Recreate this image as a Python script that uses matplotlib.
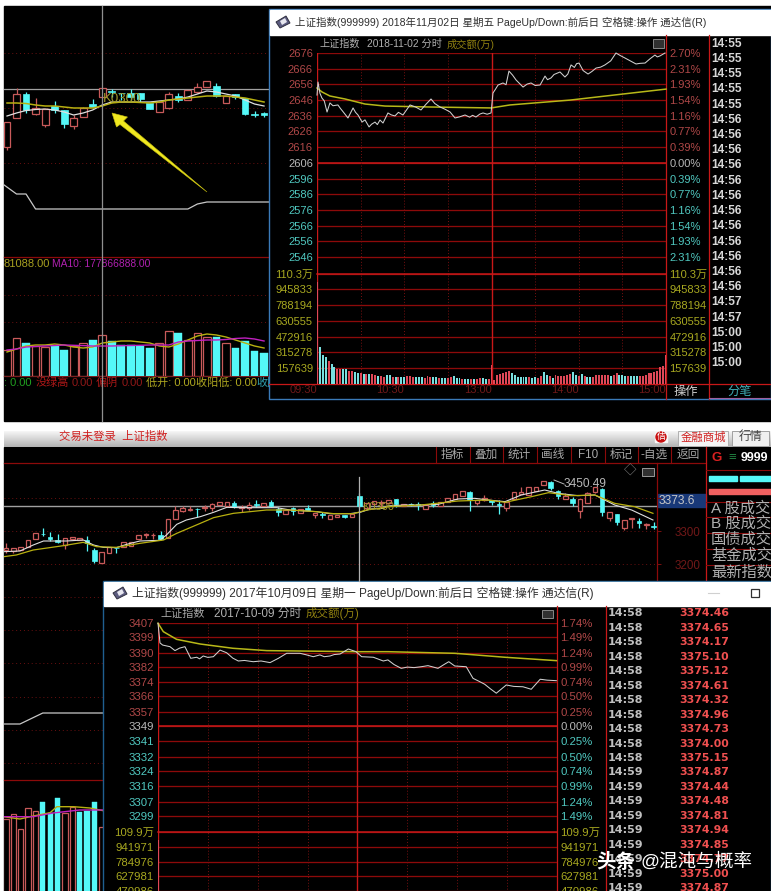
import numpy as np
import matplotlib
matplotlib.use('Agg')
import matplotlib.pyplot as plt
from matplotlib.patches import Rectangle, Polygon, Circle

plt.rcParams['font.family'] = ['Liberation Sans', 'Noto Sans CJK SC', 'DejaVu Sans']

W, H = 776, 891

RED = '#c85a5a'
CYAN = '#54f8f8'
GRID = '#8c0a0a'
BRIGHT = '#c81818'
OLIVE = '#a8a820'
PCT_RED = '#b04848'
PCT_GREY = '#b8b8b8'
PCT_TEAL = '#50c8c0'

# ---- first day (2018-11-02) ----
d1_minutes = [0, 0.7, 2, 3.4, 5, 6.9, 8.9, 11, 14.4, 16, 18, 21.3, 24.8, 26.5, 28.2, 31, 33, 35.8, 37.5, 39.9, 41.5, 43.3,
              45.4, 48.8, 51, 53.6, 56, 59.1, 64, 66, 68, 71.5, 75, 78.4, 81, 84.6, 88, 91.5, 94.9, 98, 101.8, 105,
              107, 109.3, 112, 114.2, 117, 119.7, 121, 122.5, 124.5, 127.9, 130, 132, 134.5, 136.9, 141.7, 144.5,
              147.2, 150, 153.4, 156.8, 158.5, 160.9, 163, 167.1, 170.5, 172.5, 174.7, 177, 178.5, 180.2, 183, 186.4,
              189, 191.9, 195, 198, 202, 205.6, 208.5, 211.8, 215, 219.4, 222, 225.6, 229, 232.4, 234, 236, 239.3]
d1_prices = [2649.2, 2657.5, 2650.4, 2647.3, 2645.5, 2638.4, 2644.2, 2642.4, 2642.9, 2640.8, 2638.5, 2634.6, 2641, 2638.2,
             2636.5, 2632, 2633.4, 2628.9, 2630.6, 2632, 2630.4, 2633.3, 2631.4, 2637.8, 2636.6, 2635.9, 2638.2, 2636.5,
             2642.9, 2642.2, 2641.5, 2639.7, 2643.4, 2646.7, 2643.8, 2641.6, 2640.2, 2638.4, 2634.6, 2635.3, 2636.5,
             2635.1, 2636.3, 2635.2, 2637.1, 2637.8, 2637, 2637.8, 2650.5, 2652.6, 2655.6, 2656.9, 2655.8, 2664.5,
             2661.9, 2658.8, 2654.3, 2656.2, 2656.9, 2655.3, 2655.6, 2661.3, 2659, 2660.1, 2662.3, 2663.9, 2660.7,
             2662.6, 2668.4, 2666.8, 2669.2, 2669.6, 2664.8, 2662.6, 2664.2, 2666.4, 2667, 2668.4, 2671, 2676, 2674.4,
             2672.8, 2671.2, 2669, 2669.4, 2669.6, 2672.3, 2674.7, 2673.5, 2674.2, 2676]
d1_avg_minutes = [0, 3.4, 8.9, 19.3, 33, 46.8, 77.7, 119.7, 132.7, 174, 240]
d1_avg_prices = [2653.7, 2651.2, 2648.6, 2646.7, 2643.5, 2642.2, 2641.6, 2641, 2642.9, 2646, 2653]
d1_volume = [102, 37, 29, 27, 23, 20, 17, 15, 15, 15, 15, 13, 13, 12, 11, 11, 10, 10, 10, 10,
             9, 8, 8, 7, 9, 9, 7, 7, 7, 7, 7, 8, 8, 7, 7, 7, 7, 6, 8, 7,
             7, 7, 6, 6, 6, 6, 7, 8, 6, 6, 5, 5, 5, 5, 5, 5, 6, 6, 5, 5,
             19, 4, 9, 10, 11, 12, 13, 11, 9, 7, 7, 7, 7, 7, 6, 7, 6, 8, 12, 9,
             8, 6, 9, 8, 8, 8, 9, 10, 12, 9, 8, 10, 8, 7, 7, 7, 9, 9, 9, 9,
             9, 8, 9, 11, 9, 9, 8, 8, 8, 8, 8, 8, 8, 9, 11, 11, 12, 13, 17, 18, 29]
d1_volume_side = ('rcccrccrrccrrccrcrcrrcrrccrcrccrrrcccrrrccrccrrcccrccrcrrccr'
                  'rrrrrrrccccccrccrrccrcrrrrrrccrcrccrrrrrrcrrcccrcccrrrrrrrrr' 'r')
d1_price_ticks = [2676, 2666, 2656, 2646, 2636, 2626, 2616, 2606, 2596, 2586, 2576, 2566, 2556, 2546]
d1_pct_labels = ['2.70%', '2.31%', '1.93%', '1.54%', '1.16%', '0.77%', '0.39%', '0.00%',
                 '0.39%', '0.77%', '1.16%', '1.54%', '1.93%', '2.31%']
d1_vol_ticks = [110.3, 94.5833, 78.8194, 63.0555, 47.2916, 31.5278, 15.7639]
d1_vol_labels = ['110.3万', '945833', '788194', '630555', '472916', '315278', '157639']
d1_times = ['14:55'] * 5 + ['14:56'] * 12 + ['14:57'] * 2 + ['15:00'] * 3

# ---- second day (2017-10-09) ----
d2_minutes = [0, 1.2, 2.8, 7.2, 10.2, 13, 16.2, 19.7, 23.3, 25, 27.2, 30, 33.3, 37.3, 41.3, 45, 48.3, 52, 57.3, 62, 67.4,
              72.4, 77.4, 85.4, 89, 93.4, 97.4, 100, 103.5, 106, 109.5, 114.5, 119.1, 122.5, 129.5, 135.5, 138.3, 142,
              146.3, 150, 154, 158.4, 162.4, 168.4, 172, 174.9, 178.5, 185.4, 189.5, 193, 196.5, 200, 203.5, 209.5,
              214, 219.5, 224.5, 229.9, 234, 239.6]
d2_prices = [3406.7, 3395.7, 3394.5, 3393.6, 3391.4, 3392.8, 3393.6, 3387.1, 3387.7, 3386.8, 3388.4, 3387.6, 3388, 3391.7,
             3390.2, 3387.2, 3385.6, 3385.9, 3385.2, 3385.6, 3384.7, 3387.1, 3389.9, 3389.9, 3389.1, 3388, 3389, 3388,
             3388.4, 3389.2, 3389.5, 3392.3, 3390.8, 3388, 3387.7, 3385.6, 3386.2, 3383.6, 3381.5, 3382.2, 3381.9,
             3382.4, 3383, 3381.5, 3383.6, 3385.2, 3382.8, 3382.4, 3375.9, 3374.3, 3372.6, 3370, 3367.6, 3372.2, 3371.4,
             3371.2, 3369.8, 3375.4, 3374.9, 3374.6]
d2_avg_minutes = [0, 3.2, 11.2, 25.3, 45.1, 65.4, 119.5, 138.3, 178.5, 208.5, 239.6]
d2_avg_prices = [3406.7, 3402, 3397.7, 3395.1, 3392.7, 3391.4, 3390.8, 3390.8, 3389.9, 3387.7, 3385.8]
d2_volume = [101, 30, 26, 22, 18, 15, 13, 12]
d2_volume_side = 'rccrrcrc'
d2_price_ticks = [3407, 3399, 3390, 3382, 3374, 3366, 3357, 3349, 3341, 3332, 3324, 3316, 3307, 3299]
d2_pct_labels = ['1.74%', '1.49%', '1.24%', '0.99%', '0.74%', '0.50%', '0.25%', '0.00%',
                 '0.25%', '0.50%', '0.74%', '0.99%', '1.24%', '1.49%']
d2_vol_ticks = [109.9, 94.1971, 78.4976, 62.7981, 47.0986, 31.3991, 15.6995]
d2_vol_labels = ['109.9万', '941971', '784976', '627981', '470986', '313991', '156995']
d2_times = ['14:58'] * 11 + ['14:59'] * 9
d2_quotes = ['3374.46', '3374.65', '3374.17', '3375.10', '3375.12', '3374.61', '3374.32', '3374.96', '3374.73',
             '3374.00', '3375.15', '3374.87', '3374.44', '3374.48', '3374.81', '3374.94', '3374.85', '3374.77',
             '3375.00', '3374.87']

# ---- daily candles behind the first dialog (unlabelled scale) ----
k1_open = [53, 82, 106, 86, 75, 94, 90, 74, 83, 96, 103, 109, 107.5, 107, 107, 97, 88, 92, 104, 100, 108, 113, 114, 97, 106, 102, 86, 87]
k1_close = [78, 106, 90, 92, 91, 90, 76, 82, 92, 93, 112, 108.5, 107, 103, 101, 91, 98, 106, 100, 110, 113, 119, 104, 104, 103, 86, 85.3, 85]
k1_high = [78, 112, 108, 102, 91, 99, 90, 85, 93, 101, 112, 111, 107.5, 111, 107, 97, 98, 108, 107, 110, 117, 119, 117, 104, 106, 102, 89, 88]
k1_low = [50, 82, 87, 85, 73, 87, 72, 71, 83, 92, 103, 103, 100, 100, 98, 91, 88, 91, 98, 100, 107, 113, 103, 97, 101, 85, 83, 83]
k1_ma_white = [84, 87, 89.5, 90.5, 91, 90, 88, 85, 87, 90, 95, 98, 98, 98, 98, 98, 99, 100, 101, 103, 106, 109, 108, 106, 104, 100, 96, 94]
k1_ma_yellow = [97, 97, 96.5, 95, 94, 94, 93, 92, 92, 92, 94, 97, 98, 98, 97.5, 97, 98, 100, 101, 102, 103, 104, 104, 104, 103, 102, 100, 98]
k1_ind_idx = [-0.3, 1, 2, 3, 19, 20, 21, 27.5]
k1_ind = [15, 6, 6, -9, -9, -4, -2, -2]
k1_vol = [25.7, 37.7, 32.7, 29.7, 28.7, 29.7, 25.7, 29.7, 32.7, 35.7, 40.7, 34.7, 30.7, 30.7, 29.7, 27.7, 32.7, 44.7,
          42.7, 35.7, 42.7, 38.7, 38.7, 32.7, 27.7, 34.7, 24.7, 22.7]
k1_vol_ma5 = [23.7, 26.7, 29.7, 30.7, 30.7, 31.7, 30.7, 28.7, 27.7, 28.7, 32.7, 33.7, 34.7, 34.7, 33.7, 32.7, 29.7, 28.7,
              31.7, 35.7, 39.7, 41.7, 40.7, 38.7, 35.7, 32.7, 29.7, 27.7]
k1_vol_ma10 = [25.7, 26.7, 28.7, 29.2, 29.7, 30.2, 30.7, 30.4, 30.1, 29.7, 29.7, 29.7, 30, 30.2, 30.4, 30.7, 30.7, 30.7,
               33.7, 34.7, 35.2, 35.7, 35.7, 36.2, 37.2, 37.7, 36.7, 34.7]

# ---- daily candles behind the second dialog ----
k2_open = [3243, 3240, 3243, 3253, 3275, 3291, 3283, 3273, 3258, 3275, 3273, 3273, 3243, 3205, 3235, 3250, 3253, 3256,
           3275, 3289, 3288, 3288, 3278, 3335, 3360, 3364, 3367, 3370, 3370, 3377, 3375, 3385, 3370, 3368, 3380, 3376,
           3386, 3365, 3352, 3368, 3353, 3368, 3348, 3350, 3336, 3341, 3348, 3342, 3406, 3370, 3380, 3385, 3385, 3396,
           3374, 3380, 3380, 3365, 3385, 3375, 3386, 3396, 3406, 3418, 3383, 3393, 3393, 3380, 3368, 3395, 3410, 3408,
           3420, 3437, 3446, 3420, 3396, 3395, 3360, 3383, 3418, 3426, 3340, 3350, 3310, 3337, 3330, 3318, 3314]
k2_close = [3248, 3250, 3253, 3274, 3293, 3290, 3275, 3266, 3280, 3283, 3278, 3263, 3210, 3238, 3253, 3249, 3268, 3268,
            3288, 3290, 3289, 3275, 3335, 3363, 3368, 3366, 3366, 3371, 3381, 3386, 3387, 3372, 3371, 3377, 3379, 3385,
            3375, 3358, 3364, 3360, 3366, 3364, 3355, 3349, 3348, 3348, 3343, 3351, 3374, 3385, 3390, 3386, 3393, 3380,
            3380, 3378, 3378, 3378, 3379, 3388, 3400, 3410, 3420, 3393, 3393, 3400, 3386, 3378, 3386, 3416, 3416, 3431,
            3433, 3449, 3428, 3404, 3405, 3385, 3396, 3415, 3433, 3356, 3358, 3326, 3333, 3339, 3323, 3320, 3313]
k2_high = [3263, 3250, 3253, 3274, 3293, 3308, 3296, 3290, 3280, 3283, 3278, 3285, 3250, 3238, 3253, 3250, 3268, 3268,
           3288, 3295, 3295, 3300, 3335, 3375, 3375, 3375, 3368, 3378, 3383, 3386, 3387, 3390, 3378, 3386, 3392, 3385,
           3394, 3373, 3364, 3373, 3366, 3378, 3355, 3356, 3348, 3348, 3348, 3351, 3413, 3385, 3390, 3393, 3393, 3396,
           3380, 3383, 3386, 3378, 3390, 3388, 3400, 3410, 3420, 3420, 3393, 3408, 3393, 3393, 3386, 3416, 3433, 3431,
           3433, 3449, 3450, 3423, 3413, 3403, 3396, 3418, 3433, 3428, 3358, 3350, 3333, 3339, 3338, 3323, 3326]
k2_low = [3233, 3233, 3243, 3253, 3275, 3285, 3270, 3263, 3246, 3275, 3273, 3240, 3203, 3205, 3235, 3233, 3253, 3256,
          3275, 3278, 3276, 3273, 3278, 3335, 3356, 3360, 3341, 3361, 3360, 3377, 3375, 3368, 3358, 3363, 3373, 3376,
          3371, 3346, 3352, 3348, 3353, 3362, 3338, 3338, 3336, 3341, 3338, 3342, 3368, 3370, 3380, 3370, 3385, 3373,
          3374, 3375, 3363, 3365, 3373, 3375, 3386, 3396, 3406, 3360, 3378, 3390, 3378, 3350, 3360, 3395, 3410, 3408,
          3420, 3437, 3423, 3396, 3396, 3375, 3338, 3383, 3413, 3346, 3330, 3318, 3303, 3310, 3308, 3305, 3306]
k2_white_idx = [-0.3, 1.9, 3.7, 5.1, 8.2, 10.5, 11.9, 13.2, 15, 16.4, 18.2, 20.9, 21.8, 23.2, 24.5, 26.4, 28.2, 30, 31.8,
                34, 36.8, 38.6, 42.2, 44, 46.7, 48.1, 49.5, 51.3, 51.9, 54.2, 56.4, 58.7, 61.4, 63.7, 65.5, 67.8, 70,
                73.2, 75, 77.7, 80, 82.7, 85, 87.9]
k2_white = [3238, 3240, 3258, 3270, 3270, 3273, 3258, 3251, 3250, 3260, 3270, 3272, 3288, 3320, 3333, 3343, 3356, 3371,
            3370, 3370, 3370, 3363, 3358, 3352, 3352, 3356, 3366, 3368, 3375, 3378, 3378, 3380, 3396, 3398, 3393, 3388,
            3408, 3423, 3413, 3406, 3408, 3378, 3363, 3333]
k2_yellow_idx = [-0.3, 1.4, 3.7, 7.8, 10.5, 12.3, 15, 18.2, 21.4, 23.2, 26.4, 28.2, 30.9, 35.4, 38.6, 42.2, 44.5, 47.2,
                 49, 51.3, 51.9, 56.4, 61.4, 65.5, 67.8, 71.4, 73.7, 76.8, 80, 82.7, 85.4, 87.9]
k2_yellow = [3223, 3228, 3243, 3256, 3266, 3253, 3251, 3263, 3273, 3293, 3323, 3340, 3353, 3363, 3363, 3358, 3352, 3352,
             3363, 3370, 3373, 3378, 3390, 3393, 3386, 3403, 3415, 3406, 3408, 3383, 3373, 3353]
k2_ind_idx = [-0.27, 1.9, 5, 13.2]
k2_ind = [76, 76, 87, 87]
k2_vol = [81, 86, 71, 92, 89, 98, 87, 102, 87, 93, 88, 89, 98, 73]
k2_vol_up = [1, 1, 1, 1, 1, 0, 0, 0, 1, 1, 0, 0, 0, 1]
k2_ma5_idx = [-0.3, 1.9, 3.7, 6, 6.9, 9.2, 11.4, 13.2]
k2_ma5 = [83.3, 81, 84, 87.3, 93.3, 93.3, 92, 89.3]
k2_ma10_idx = [-0.3, 3.7, 6.4, 10, 13.2]
k2_ma10 = [83.3, 83.3, 87, 90, 90]


def add_box(left, top, right, bottom, z):
    ax = plt.gcf().add_axes([left / W, 1 - bottom / H, (right - left) / W, (bottom - top) / H])
    ax.set_zorder(z)
    ax.patch.set_visible(False)
    for s in ax.spines.values():
        s.set_visible(False)
    ax.tick_params(length=0, labelbottom=False, labelleft=False)
    return ax


def page_layer(z):
    ax = add_box(0, 0, W, H, z)
    ax.set_xlim(0, W)
    ax.set_ylim(H, 0)
    ax.set_xticks([])
    ax.set_yticks([])
    return ax


def label(ax, x, y, s, color, size=8, ha='left', **kw):
    ax.text(x, y, s, color=color, fontsize=size, ha=ha, va='center', **kw)


def dotted_grid(ax):
    ax.yaxis.grid(True, color='#6a1010', lw=0.7, ls=(0, (1, 3)))
    ax.set_axisbelow(True)


def candles(ax, opens, closes, highs, lows, width):
    x = np.arange(len(opens))
    o, c = np.array(opens), np.array(closes)
    up = c > o
    ax.vlines(x, lows, highs, colors=[RED if u else CYAN for u in up], lw=0.9, zorder=2)
    ax.bar(x[up], (c - o)[up], bottom=o[up], width=width, facecolor='black', edgecolor=RED, lw=0.9, zorder=3)
    ax.bar(x[~up], (c - o)[~up], bottom=o[~up], width=width, facecolor=CYAN, edgecolor=CYAN, lw=0.5, zorder=3)


def volume_bars(ax, vols, up, width):
    x = np.arange(len(vols))
    v, u = np.array(vols), np.array(up, dtype=bool)
    ax.bar(x[u], v[u], width=width, facecolor='black', edgecolor=RED, lw=0.9, zorder=2)
    ax.bar(x[~u], v[~u], width=width, facecolor=CYAN, edgecolor=CYAN, lw=0.3, zorder=2)


def tick_colors(labels, middle):
    for i, t in enumerate(labels):
        t.set_color(PCT_RED if i < middle else PCT_GREY if i == middle else PCT_TEAL)


def minute_panel(left, right, top, mid, bottom, price_bottom, vol_top, price_ticks, pct_labels, vol_ticks, vol_labels,
                 minutes, prices, avg_minutes, avg_prices, volume, side, fs):
    ax = add_box(left, top, right, mid, 4)
    ax.set_xlim(0, 240)
    ax.set_ylim(price_bottom, price_ticks[0])
    ax.set_xticks([])
    ax.set_yticks(price_ticks, labels=[str(p) for p in price_ticks])
    ax.tick_params(axis='y', labelleft=True, pad=3, labelsize=fs)
    ax.yaxis.grid(True, color=GRID, lw=0.95)
    ax.set_axisbelow(True)
    tick_colors(ax.get_yticklabels(), 7)
    ax.axhline(price_ticks[7], color=BRIGHT, lw=1.1, zorder=1)
    ax.plot(minutes, prices, color='#d0d0d0', lw=0.75, zorder=4, clip_on=False)
    ax.plot(avg_minutes, avg_prices, color='#b8b818', lw=1.1, zorder=3, clip_on=False)

    rax = ax.twinx()
    rax.set_ylim(ax.get_ylim())
    rax.set_xlim(0, 240)
    rax.set_yticks(price_ticks, labels=pct_labels)
    rax.tick_params(axis='y', length=0, pad=2.5, labelsize=fs)
    tick_colors(rax.get_yticklabels(), 7)
    for s in rax.spines.values():
        s.set_visible(False)

    vax = add_box(left, mid, right, bottom, 4)
    vax.set_xlim(0, 240)
    vax.set_ylim(0, vol_top)
    vax.set_yticks(vol_ticks, labels=vol_labels)
    vax.tick_params(axis='y', labelleft=True, pad=3, labelsize=fs, labelcolor=OLIVE)
    vax.yaxis.grid(True, color=GRID, lw=0.95)
    vax.set_axisbelow(True)
    vax.axhline(vol_top, color=BRIGHT, lw=1.1, zorder=1, clip_on=False)
    vax.set_xticks([0, 60, 120, 180, 240], labels=['09:30', '10:30', '13:00', '14:00', '15:00'])
    vax.tick_params(axis='x', labelbottom=True, labelsize=fs, labelcolor='#701818', pad=1)
    for t in vax.get_xticklabels():
        t.set_ha('right')
    colors = ['#e04858' if s == 'r' else '#78e0e0' for s in side]
    vax.bar(np.arange(len(volume)) * 2, volume, width=1.35, color=colors, zorder=3)

    r2 = vax.twinx()
    r2.set_ylim(0, vol_top)
    r2.set_yticks(vol_ticks, labels=vol_labels)
    r2.tick_params(axis='y', length=0, pad=2.5, labelsize=fs, labelcolor=OLIVE)
    for s in r2.spines.values():
        s.set_visible(False)

    for a in (ax, vax):
        for m in [30, 60, 90, 150, 180, 210]:
            a.axvline(m, color='#7a1010', lw=0.7, ls=(0, (1, 2)), zorder=1)
        a.axvline(0, color=BRIGHT, lw=1, zorder=1)
        a.axvline(120, color=BRIGHT, lw=1, zorder=1)


def window_icon(ax, cx, cy):
    ax.add_patch(Polygon([(cx - 7, cy), (cx + 3, cy - 6), (cx + 7, cy + 1), (cx - 3, cy + 6)],
                         facecolor='#5c5c80', edgecolor='#303040', lw=0.7))
    ax.add_patch(Polygon([(cx - 3, cy - 1), (cx + 2, cy - 4), (cx + 4, cy), (cx - 1, cy + 3)],
                         facecolor='#e8e8f0', edgecolor='none'))


fig = plt.figure(figsize=(W / 100, H / 100), dpi=100, facecolor='white')

# screen backgrounds
page = page_layer(0)
page.add_patch(Rectangle((4, 6), 767, 415, color='black'))
page.add_patch(Rectangle((4, 447), 767, 444, color='black'))
for i in range(16):
    g = 0.96 - 0.017 * i
    page.add_patch(Rectangle((4, 431 + i), 767, 1, color=(g, g, g), lw=0))
label(page, 59, 436, '交易未登录  上证指数', '#d02020', 8.2)
page.add_patch(Rectangle((655, 433), 12, 9, color='#f8f8f8'))
page.add_patch(Circle((661, 437), 5, color='#c81010'))
label(page, 661, 437, '佶', 'white', 6.5, ha='center')
page.add_patch(Rectangle((678, 431), 50, 15, facecolor='#f4f4f4', edgecolor='#b0b0b0', lw=0.7))
label(page, 703, 437, '金融商城', '#d02020', 8.2, ha='center')
page.add_patch(Rectangle((732, 431), 37, 15, facecolor='#f0f0f0', edgecolor='#a0a0a0', lw=0.7))
label(page, 751, 437, '行情', '#444444', 8.6, ha='center')

# menu bar of the second screen
page.plot([4, 706], [463, 463], color=GRID, lw=0.9)
for x in [436, 470, 503, 537, 570.6, 604.7, 638, 671]:
    page.plot([x, x], [447, 463], color=GRID, lw=0.8)
for x, s in zip([452.5, 486, 519.5, 553, 588, 621.5, 654.5, 688.5],
                ['指标', '叠加', '统计', '画线', 'F10', '标记', '-自选', '返回']):
    label(page, x, 455, s, '#a8a8a8', 8.4, ha='center')
page.plot([657, 657], [463, 581], color=GRID, lw=0.9)
page.plot([706, 706], [447, 581], color=BRIGHT, lw=0.9)
for y in [470, 502, 517, 533, 549, 565]:
    page.plot([706, 771], [y, y], color=GRID, lw=0.8)
label(page, 712, 458, 'G', '#d82020', 9.5, weight='bold')
label(page, 728, 458, '≡', '#208040', 9.5, weight='bold')
label(page, 741, 458, '9999', 'white', 9, weight='bold')
page.add_patch(Rectangle((709, 476), 28, 5, color=CYAN))
page.add_patch(Rectangle((740, 476), 31, 5, color=CYAN))
page.add_patch(Rectangle((709, 489), 62, 5, color='#f06060'))
for y, s in zip([509, 524, 540, 556, 573], ['A 股成交', 'B 股成交', '国债成交', '基金成交', '最新指数']):
    label(page, 711, y, s, '#b0b0b0', 11)
page.add_patch(Rectangle((658, 494), 48, 13, color='#183878'))
label(page, 659, 500.5, '3373.6', '#c8c8c8', 8.6)
label(page, 630, 472, '◇', '#888888', 9, ha='center')
page.add_patch(Rectangle((642, 468), 12, 8, facecolor='#303030', edgecolor='#999999', lw=0.7))
label(page, 564, 484, '3450.49', '#b8b8b8', 8.6)
page.plot([554, 564], [480, 484], color='#b8b8b8', lw=0.7)

# first screen: daily candles, indicator and volume
k1 = add_box(4, 6, 269, 257, 1)
k1.set_xlim(-0.315, 27.52)
k1.set_ylim(-57, 194)
k1.set_xticks([])
k1.set_yticks([147, 92, 37])
dotted_grid(k1)
k1.axhline(111.3, color='#a0a0a0', lw=0.9, zorder=1)
candles(k1, k1_open, k1_close, k1_high, k1_low, 0.72)
k1.plot(k1_ma_white, color='#e0e0e0', lw=0.9, zorder=4)
k1.plot(k1_ma_yellow, color='#b8b010', lw=1.1, zorder=4)
k1.plot(k1_ind_idx, k1_ind, color='#c8c8c8', lw=0.9, zorder=4)

v1 = add_box(4, 257, 269, 375.7, 1)
v1.set_xlim(-0.315, 27.52)
v1.set_ylim(0, 118.7)
v1.set_xticks([])
v1.set_yticks([80.7, 53.7])
dotted_grid(v1)
v1.axhline(118.7, color=GRID, lw=0.9, clip_on=False)
v1.axhline(0, color='#7a2020', lw=0.9, clip_on=False)
volume_bars(v1, k1_vol, np.array(k1_close) > np.array(k1_open), 0.82)
v1.plot(k1_vol_ma5, color='#b8b010', lw=1, zorder=3)
v1.plot(k1_vol_ma10, color='#c020c0', lw=1, zorder=3)

label(page, 4, 264, '81088.00', '#a8a020', 8)
label(page, 52, 264, 'MA10: 177866888.00', '#b020b0', 7.4)
for x, s, c in [(4, ': 0.00', '#20a020'), (36, '没绿高', '#b01818'), (72, '0.00', '#901818'),
                (96, '偏阴', '#b01818'), (122, '0.00', '#901818'), (146, '低开: 0.00', '#b0a820'),
                (196, '收阳低: 0.00', '#b0a820'), (256, '收阴', '#30a0b0')]:
    label(page, x, 383, s, c, 8)

# second screen: daily candles, indicator and volume
k2 = add_box(4, 463, 657, 581, 1)
k2.set_xlim(-0.27, 88.45)
k2.set_ylim(3150, 3504)
k2.set_xticks([])
k2.yaxis.tick_right()
k2.set_yticks([3200, 3300, 3400], labels=['3200', '3300', ''])
k2.tick_params(axis='y', labelleft=False, labelright=True, length=3, width=0.7, color='#7a1010', pad=10,
               labelcolor='#701818', labelsize=8.4)
dotted_grid(k2)
k2.axhline(3373.6, color='#a0a0a0', lw=1, zorder=1)
candles(k2, k2_open, k2_close, k2_high, k2_low, 0.62)
k2.plot(k2_white_idx, k2_white, color='#e0e0e0', lw=0.8, zorder=4)
k2.plot(k2_yellow_idx, k2_yellow, color='#b8b010', lw=0.9, zorder=4)

i2 = add_box(4, 581, 103, 780, 1)
i2.set_xlim(-0.27, 13.18)
i2.set_ylim(20, 219)
i2.set_xticks([])
i2.set_yticks([203, 170, 137, 103, 70, 37])
dotted_grid(i2)
i2.plot(k2_ind_idx, k2_ind, color='#c8c8c8', lw=0.9)

v2 = add_box(4, 780, 103, 891, 1)
v2.set_xlim(-0.27, 13.18)
v2.set_ylim(9, 120)
v2.set_xticks([])
v2.set_yticks([])
v2.axhline(120, color=GRID, lw=0.9, clip_on=False)
volume_bars(v2, k2_vol, k2_vol_up, 0.72)
v2.plot(k2_ma5_idx, k2_ma5, color='#b8b010', lw=1, zorder=3)
v2.plot(k2_ma10_idx, k2_ma10, color='#c020c0', lw=1, zorder=3)

# crosshairs and floating marks, then the two dialogs over them
dlg = page_layer(2)
dlg.plot([101.5, 101.5], [6, 421], color='#909090', lw=0.9)
dlg.plot([359, 359], [477, 581], color='#b0b0b0', lw=0.9)
label(dlg, 103, 99, 'K0300', '#a09828', 9.5)
label(dlg, 362, 507, 'K0300', '#a09828', 8)

dlg.add_patch(Rectangle((269, 9), 502, 390, facecolor='black', edgecolor='#3a7ab8', lw=1))
dlg.add_patch(Rectangle((270, 10), 501, 25, color='white'))
window_icon(dlg, 283, 22)
label(dlg, 295, 22, '上证指数(999999) 2018年11月02日 星期五 PageUp/Down:前后日 空格键:操作 通达信(R)', '#303030', 7.55)
label(dlg, 319, 44, '上证指数', '#b0b0b0', 7.3)
label(dlg, 367, 44, '2018-11-02 分时', '#b0b0b0', 7.4)
label(dlg, 447, 44, '成交额(万)', '#908010', 7.4)
dlg.add_patch(Rectangle((653, 39), 11, 9, facecolor='#303030', edgecolor='#888888', lw=0.7))
dlg.plot([666, 666], [35, 399], color=BRIGHT, lw=0.9)
dlg.plot([709, 709], [35, 399], color=BRIGHT, lw=0.9)
dlg.plot([269, 771], [384, 384], color=BRIGHT, lw=0.9)
for i, s in enumerate(d1_times):
    label(dlg, 711, 43.7 + 15.22 * i, s, '#d8d8d8', 8.6, weight='bold')
label(dlg, 686, 392, '操作', '#d0d0d0', 8.8, ha='center')
label(dlg, 740, 392, '分笔', '#40b0b8', 8.8, ha='center')
dlg.plot([709, 771], [398, 398], color='#a060a0', lw=0.8)

dlg.add_patch(Rectangle((103, 581), 668, 320, facecolor='black', edgecolor='#1f5f90', lw=1))
dlg.add_patch(Rectangle((104, 582), 667, 24, color='white'))
window_icon(dlg, 120, 593)
label(dlg, 132, 593, '上证指数(999999) 2017年10月09日 星期一 PageUp/Down:前后日 空格键:操作 通达信(R)', '#303030', 8.5)
dlg.plot([708, 719], [593, 593], color='#d0d0d0', lw=0.8)
dlg.add_patch(Rectangle((751, 589), 8, 8, facecolor='white', edgecolor='#303030', lw=0.9))
label(dlg, 160, 614, '上证指数', '#a8a8a8', 8)
label(dlg, 214, 614, '2017-10-09 分时', '#b0b0b0', 8.5)
label(dlg, 306, 614, '成交额(万)', '#908010', 8.3)
dlg.add_patch(Rectangle((542, 610), 11, 8, facecolor='#303030', edgecolor='#888888', lw=0.7))
dlg.plot([557, 557], [606, 891], color=BRIGHT, lw=0.9)
dlg.plot([606, 606], [606, 891], color=BRIGHT, lw=0.9)
for i, s in enumerate(d2_times):
    label(dlg, 608, 613.3 + 14.47 * i, s, '#c0c0c0', 8, weight='bold', family='DejaVu Sans')
for i, s in enumerate(d2_quotes):
    label(dlg, 679, 613.3 + 14.47 * i, s, '#f05050', 7.8, weight='bold', family='DejaVu Sans')

# the two intraday panels
minute_panel(317, 666, 53, 273.7, 384, 2535.4, 110.3, d1_price_ticks, d1_pct_labels, d1_vol_ticks, d1_vol_labels,
             d1_minutes, d1_prices, d1_avg_minutes, d1_avg_prices, d1_volume, d1_volume_side, 8)
minute_panel(158, 557, 622.7, 831.7, 936, 3290.2, 109.9, d2_price_ticks, d2_pct_labels, d2_vol_ticks, d2_vol_labels,
             d2_minutes, d2_prices, d2_avg_minutes, d2_avg_prices, d2_volume, d2_volume_side, 8.2)

# arrow, watermark and the white margins that trim the screens
top = page_layer(6)
top.add_patch(Polygon([(112, 113), (127.5, 117), (123.5, 121), (207, 192), (120, 124.5), (116.5, 127)],
                      facecolor='#f0e820', edgecolor='#c8c010', lw=0.4))
label(top, 596, 862, '头条', 'white', 14, weight='bold')
label(top, 640, 862, '@混沌与概率', 'white', 13.4)
top.add_patch(Rectangle((771, 0), 5, H, color='white', lw=0))

fig.savefig('out.png', dpi=100)
